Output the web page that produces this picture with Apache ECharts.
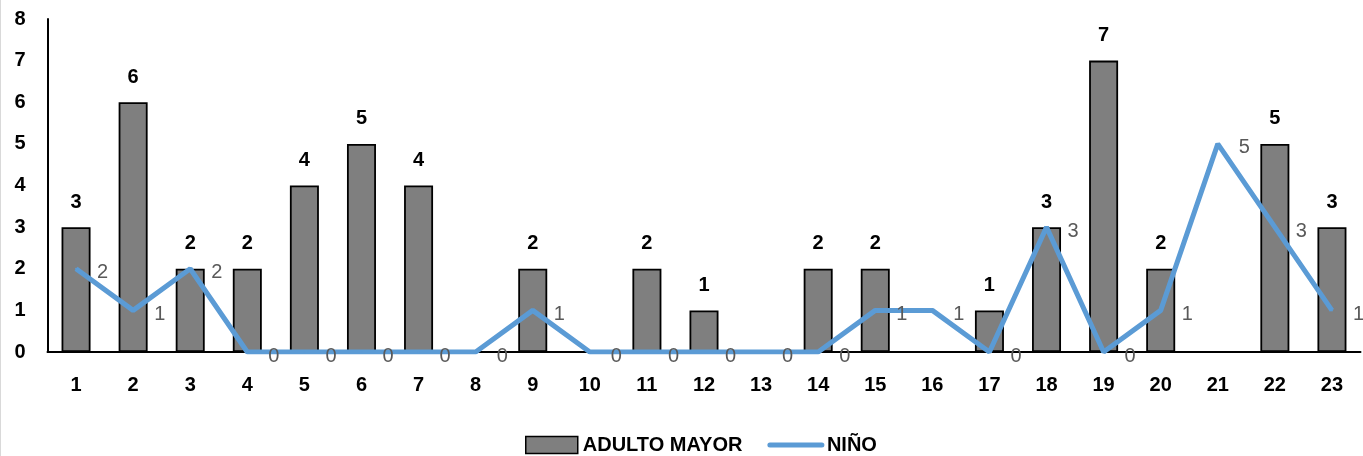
<!DOCTYPE html>
<html><head><meta charset="utf-8">
<script src="https://cdn.jsdelivr.net/npm/echarts@6/dist/echarts.min.js"></script>
<style>html,body{margin:0;padding:0;background:#fff}#c{width:1363px;height:456px}</style>
</head><body><div id="c"></div>
<script>
const categories = ['1','2','3','4','5','6','7','8','9','10','11','12','13','14','15','16','17','18','19','20','21','22','23'];
const adultoMayor = [3,6,2,2,4,5,4,null,2,null,2,1,null,2,2,null,1,3,7,2,null,5,3];
const nino = [2,1,2,0,0,0,0,0,1,0,0,0,0,0,1,1,0,3,0,1,5,3,1];
const yTicks = [0,1,2,3,4,5,6,7,8];

const font = 'Liberation Sans';
const chart = echarts.init(document.getElementById('c'));
chart.setOption({
  animation: false,
  grid: {left: 47.5, right: 2.5, top: 19, bottom: 104},
  legend: {
    top: 430, left: 520, itemGap: 25, itemWidth: 52, itemHeight: 17,
    textStyle: {fontFamily: font, fontWeight: 'bold', fontSize: 20, color: '#000'},
    data: [
      {name: 'ADULTO MAYOR', icon: 'rect', itemStyle: {color: '#7f7f7f', borderColor: '#000', borderWidth: 1.5}},
      {name: 'NIÑO', itemStyle: {opacity: 0}, lineStyle: {width: 5, color: '#5b9bd5', cap: 'round'}}
    ]
  },
  xAxis: {
    type: 'category', data: categories,
    axisLine: {lineStyle: {color: '#000', width: 2}},
    axisTick: {show: false},
    axisLabel: {fontFamily: font, fontWeight: 'bold', fontSize: 20, color: '#000', margin: 23}
  },
  yAxis: {
    type: 'value', min: 0, max: 8, interval: 1,
    axisLine: {show: true, lineStyle: {color: '#000', width: 2}},
    axisTick: {show: false},
    splitLine: {show: false},
    axisLabel: {fontFamily: font, fontWeight: 'bold', fontSize: 20, color: '#000', margin: 22,
      formatter: v => yTicks.includes(v) ? String(v) : ''}
  },
  series: [
    {
      name: 'ADULTO MAYOR', type: 'bar', data: adultoMayor, barWidth: 29,
      itemStyle: {color: '#7f7f7f', borderColor: '#000', borderWidth: 1.8},
      label: {show: true, position: 'top', distance: 15, fontFamily: font, fontWeight: 'bold', fontSize: 20, color: '#000'}
    },
    {
      name: 'NIÑO', type: 'line', data: nino, symbol: 'circle', symbolSize: 2, showSymbol: true,
      lineStyle: {color: '#5b9bd5', width: 5},
      itemStyle: {color: '#5b9bd5'},
      label: {show: true, position: 'right', distance: 20, offset: [0, 4], fontFamily: font, fontSize: 20, color: '#595959'},
      z: 3
    }
  ],
  graphic: [{type: 'rect', left: 0, top: 0, shape: {width: 1, height: 456}, style: {fill: '#d9d9d9'}, silent: true}]
});
</script></body></html>
